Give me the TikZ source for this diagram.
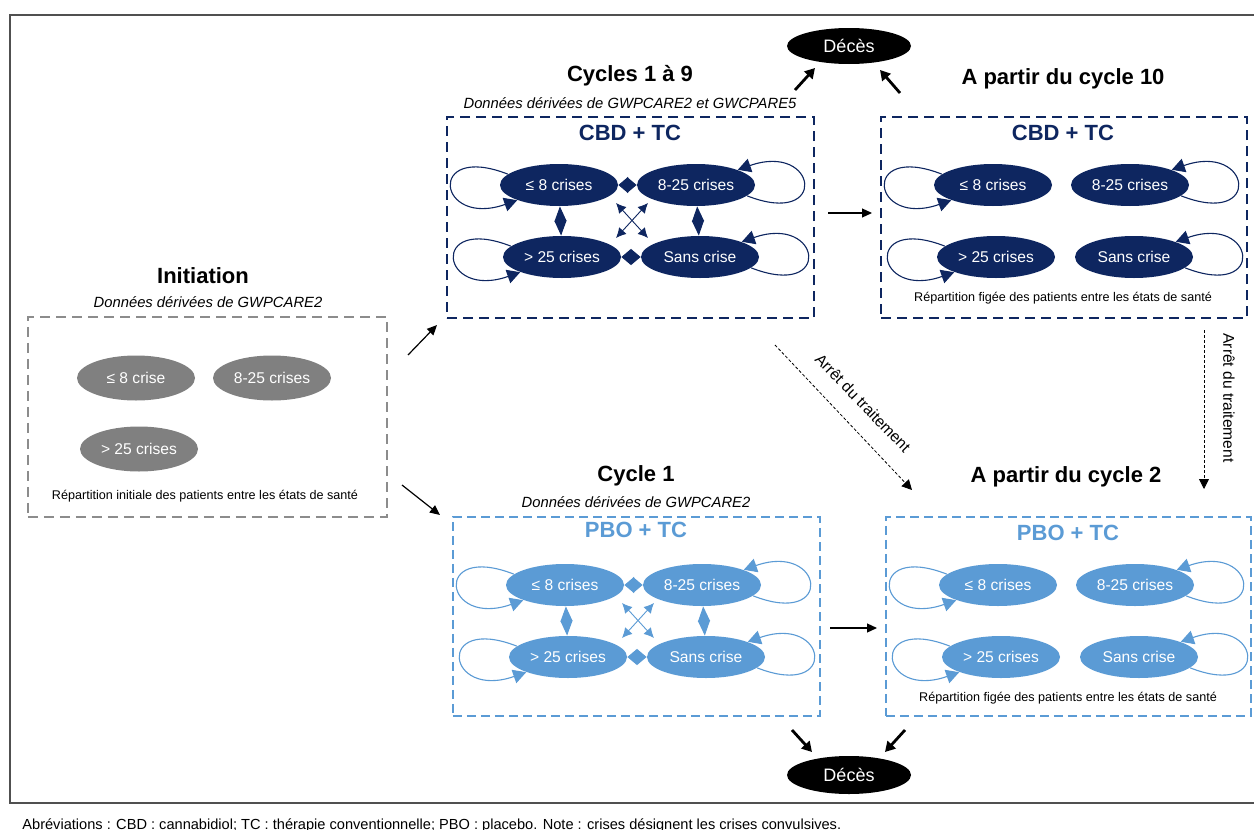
\documentclass[tikz,border=0pt]{standalone}
\usepackage{fontspec}
\setmainfont{Liberation Sans}
\usetikzlibrary{shapes.geometric,arrows.meta,calc}
\definecolor{navy}{HTML}{0E2660}
\definecolor{lblue}{HTML}{5B9BD5}
\definecolor{gell}{HTML}{808080}
\definecolor{gbox}{HTML}{8C8C8C}
\definecolor{framec}{HTML}{505050}
\tikzset{
  st/.style={ellipse, inner sep=0pt, minimum width=59pt, minimum height=21pt, text=white, font=\fontsize{7.8}{9}\selectfont},
  gst/.style={st, fill=gell, minimum height=22.5pt},
  selfl/.style={line width=0.55pt, -{Triangle[length=6.5pt,width=7pt]}},
  dblh/.style={line width=0.5pt, {Triangle[length=4.8pt,width=8pt]}-{Triangle[length=4.8pt,width=8pt]}},
  dblv/.style={line width=0.5pt, {Triangle[length=7.5pt,width=6pt]}-{Triangle[length=7.5pt,width=6pt]}},
  crossarr/.style={line width=0.45pt, {Latex[length=5pt,width=5pt]}-{Latex[length=5pt,width=5pt]}},
  bnavy/.style={draw=navy, line width=1pt, dash pattern=on 5pt off 3pt, inner sep=0pt, anchor=north west},
  bblue/.style={draw=lblue, line width=0.75pt, dash pattern=on 4.5pt off 2.5pt, inner sep=0pt, anchor=north west},
  bgray/.style={draw=gbox, line width=0.75pt, dash pattern=on 5pt off 3pt, inner sep=0pt, anchor=north west},
  head/.style={font=\fontsize{11}{13}\selectfont\bfseries},
  sub/.style={font=\fontsize{7.4}{9}\selectfont\itshape},
  small/.style={font=\fontsize{6.3}{8}\selectfont},
  arm/.style={font=\fontsize{7.8}{9}\selectfont},
  deces/.style={ellipse, fill=black, text=white, inner sep=0pt, minimum width=62pt, minimum height=18pt, font=\fontsize{9}{10}\selectfont},
  arr/.style={line width=0.6pt, -{Triangle[length=5pt,width=4.5pt]}},
  darr/.style={line width=1.4pt, -{Triangle[length=5pt,width=5.5pt]}},
  stoparr/.style={line width=0.4pt, dash pattern=on 1.5pt off 1pt, -{Triangle[length=5pt,width=5pt]}},
}
\newcommand\mystates[4]{%
  \begin{scope}[shift={(#2,-#3)}]
    \node[st,fill=#4] (#1a) at (113,-69) {≤ 8 crises};
    \node[st,fill=#4] (#1b) at (250,-69) {8-25 crises};
    \node[st,fill=#4] (#1c) at (116,-141) {> 25 crises};
    \node[st,fill=#4] (#1d) at (254,-141) {Sans crise};
    \draw[selfl,#4] (#1a.168) .. controls +(-82,32) and +(-80,-28) .. (#1a.200);
    \draw[selfl,#4] (#1c.168) .. controls +(-82,32) and +(-80,-28) .. (#1c.200);
    \draw[selfl,#4] (#1b.-12) .. controls +(82,-32) and +(80,28) .. (#1b.20);
    \draw[selfl,#4] (#1d.-12) .. controls +(82,-32) and +(80,28) .. (#1d.20);
  \end{scope}}
\newcommand\myconn[4]{%
  \begin{scope}[shift={(#2,-#3)}]
    \draw[dblh,#4] (#1a) -- (#1b);
    \draw[dblh,#4] (#1c) -- (#1d);
    \draw[dblv,#4] (#1a) -- (#1c);
    \draw[dblv,#4] (#1b) -- (#1d);
    \coordinate (#1x1) at (170,-87);
    \coordinate (#1x2) at (202,-122);
    \coordinate (#1x3) at (202,-87);
    \coordinate (#1x4) at (170,-122);
    \draw[crossarr,#4] (#1x1) -- (#1x2);
    \draw[crossarr,#4] (#1x3) -- (#1x4);
  \end{scope}}
\begin{document}
\begin{tikzpicture}[x=0.5pt,y=0.5pt]
\useasboundingbox (0,0) rectangle (1254,-830);
\fill[white] (0,0) rectangle (1254,-830);
% outer frame
\draw[framec, line width=1.1pt] (10,-15) rectangle (1262,-803);

% boxes
\node[bgray, minimum width=179.5pt, minimum height=100pt] (B0) at (27,-316) {};
\node[bnavy, minimum width=183.5pt, minimum height=100.5pt] (B1) at (446,-116) {};
\node[bnavy, minimum width=183pt, minimum height=100.5pt] (B2) at (880,-116) {};
\node[bblue, minimum width=183.5pt, minimum height=99.5pt] (B3) at (452,-516) {};
\node[bblue, minimum width=182.5pt, minimum height=99.5pt] (B4) at (885,-516) {};

% headings
\node[head] (h0) at (203,-276) {Initiation};
\node[sub] (s0) at (208,-302) {Données dérivées de GWPCARE2};
\node[head] (h1) at (630,-76) {Cycles 1 à 9};
\node[sub] (s1) at (630,-103) {Données dérivées de GWPCARE2 et GWCPARE5};
\node[head] (h2) at (1063,-79) {A partir du cycle 10};
\node[head] (h3) at (636,-476) {Cycle 1};
\node[sub] (s3) at (636,-502) {Données dérivées de GWPCARE2};
\node[head] (h4) at (1066,-477) {A partir du cycle 2};

\node[head, text=navy] (t1) at (630,-133) {CBD + TC};
\node[head, text=navy] (t2) at (1063,-133) {CBD + TC};
\node[head, text=lblue] (t3) at (636,-530) {PBO + TC};
\node[head, text=lblue] (t4) at (1068,-533) {PBO + TC};

% initiation states
\node[gst] (i1) at (136,-378) {≤ 8 crise};
\node[gst] (i2) at (272,-378) {8-25 crises};
\node[gst] (i3) at (139,-449) {> 25 crises};
\node[small] (r0) at (205,-496) {Répartition initiale des patients entre les états de santé};

% state groups
\mystates{p}{446}{116}{navy}
\myconn{p}{446}{116}{navy}
\mystates{q}{880}{116}{navy}
\mystates{r}{452}{516}{lblue}
\myconn{r}{452}{516}{lblue}
\mystates{s}{885}{516}{lblue}
\node[small] (r2) at (1063,-298) {Répartition figée des patients entre les états de santé};
\node[small] (r4) at (1068,-698) {Répartition figée des patients entre les états de santé};

% deces
\node[deces] (D1) at (849,-46) {Décès};
\node[deces, minimum height=19pt] (D2) at (849,-775) {Décès};
\coordinate (d1a) at (795,-90);  \coordinate (d1b) at (815,-68);
\coordinate (d1c) at (900,-93);  \coordinate (d1d) at (880,-70);
\coordinate (d2a) at (792,-730); \coordinate (d2b) at (812,-752);
\coordinate (d2c) at (905,-730); \coordinate (d2d) at (885,-752);
\draw[darr] (d1a) -- (d1b);
\draw[darr] (d1c) -- (d1d);
\draw[darr] (d2a) -- (d2b);
\draw[darr] (d2c) -- (d2d);

% flow arrows
\coordinate (ia) at (408,-355); \coordinate (ib) at (437,-325);
\coordinate (ic) at (402,-485); \coordinate (id) at (440,-515);
\draw[arr] (ia) -- (ib);
\draw[arr] (ic) -- (id);
\coordinate (ea) at (828,-213); \coordinate (eb) at (872,-213);
\coordinate (ec) at (830,-628); \coordinate (ed) at (877,-628);
\draw[arr] (ea) -- (eb);
\draw[arr] (ec) -- (ed);

% treatment stop
\coordinate (sa) at (775,-345); \coordinate (sb) at (912,-490);
\coordinate (sc) at (1204,-330); \coordinate (sd) at (1204,-489);
\draw[stoparr] (sa) -- (sb);
\draw[stoparr] (sc) -- (sd);
\node[arm, rotate=-46] (l1) at (863,-403) {Arrêt du traitement};
\node[arm, rotate=-90] (l2) at (1229,-398) {Arrêt du traitement};

% footnote
\node[font=\fontsize{7.3}{8}\selectfont, anchor=base west, inner sep=0pt] (fn) at (22,-829) {Abréviations : CBD : cannabidiol; TC : thérapie conventionnelle; PBO : placebo. Note : crises désignent les crises convulsives.};
\end{tikzpicture}
\end{document}
